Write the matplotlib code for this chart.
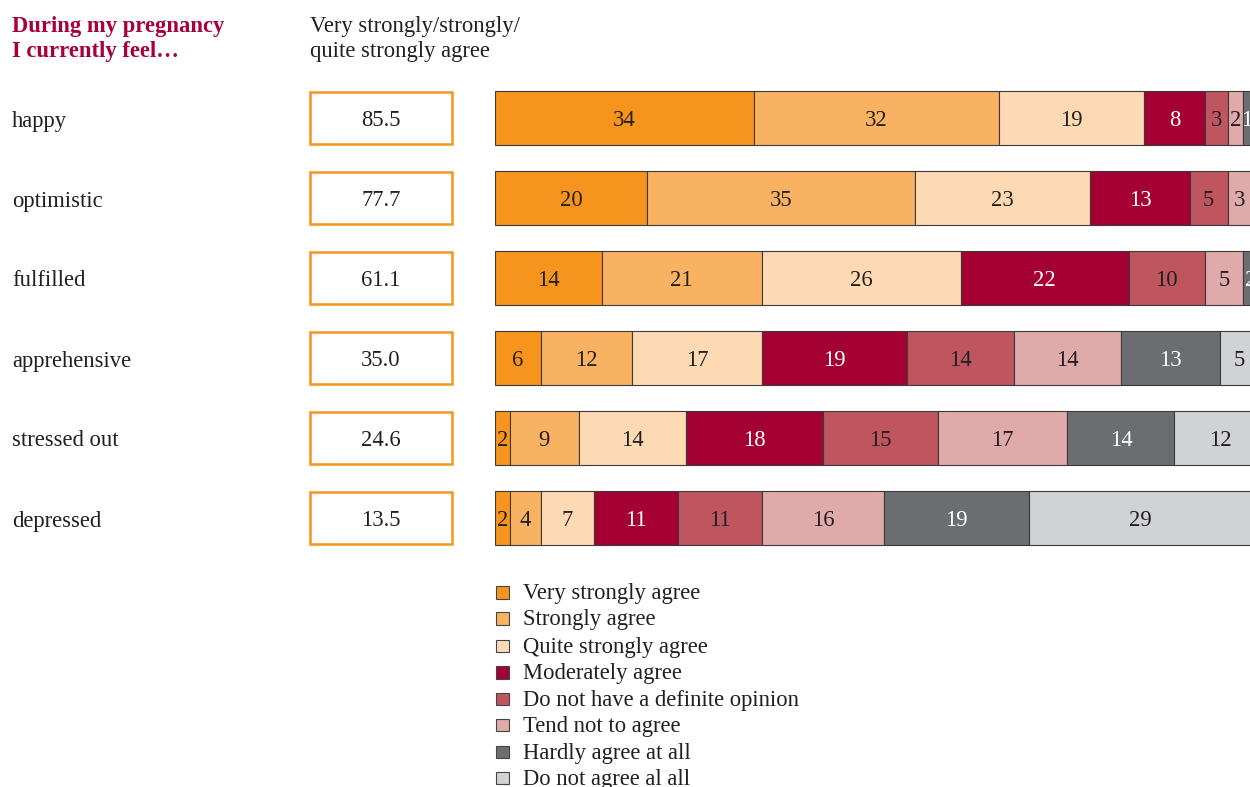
import matplotlib
matplotlib.use("Agg")
import matplotlib.pyplot as plt
from matplotlib.patches import Rectangle
from matplotlib import transforms

plt.rcParams['font.family'] = ['Liberation Serif', 'DejaVu Serif']

# ---- data -------------------------------------------------------------
feelings = ['happy', 'optimistic', 'fulfilled', 'apprehensive', 'stressed out', 'depressed']
agree_total = [85.5, 77.7, 61.1, 35.0, 24.6, 13.5]

categories = ['Very strongly agree', 'Strongly agree', 'Quite strongly agree',
              'Moderately agree', 'Do not have a definite opinion',
              'Tend not to agree', 'Hardly agree at all', 'Do not agree al all']

very_strongly = [34, 20, 14, 6, 2, 2]
strongly = [32, 35, 21, 12, 9, 4]
quite_strongly = [19, 23, 26, 17, 14, 7]
moderately = [8, 13, 22, 19, 18, 11]
no_opinion = [3, 5, 10, 14, 15, 11]
tend_not = [2, 3, 5, 14, 17, 16]
hardly = [1, 1, 2, 13, 14, 19]
not_at_all = [1, 0, 1, 5, 12, 29]

series = [very_strongly, strongly, quite_strongly, moderately,
          no_opinion, tend_not, hardly, not_at_all]

colors = ['#F7941D', '#F9B262', '#FDDAB4', '#A50034',
          '#BF555F', '#DFAAA9', '#6C6D70', '#D1D2D4']
label_colors = ['#231F20', '#231F20', '#231F20', 'white',
                '#231F20', '#231F20', 'white', '#231F20']

TEXT = '#231F20'
ACCENT = '#A7003A'
ORANGE = '#F7941D'
FS = 16.3

W, H = 1250, 787
fig = plt.figure(figsize=(W / 100, H / 100), dpi=100)

def fx(px):
    return px / W

def fy(py):
    return 1 - py / H

# ---- stacked bars -----------------------------------------------------
top_px, bottom_px = 78, 558
XMAX = 98.9
ax = fig.add_axes([fx(494.7), fy(bottom_px), 1 - fx(494.7), (bottom_px - top_px) / H])
ax.set_xlim(0, XMAX)
ax.set_ylim(len(feelings) - 0.5, -0.5)
ax.axis('off')

ypos = list(range(len(feelings)))
text_tf = transforms.offset_copy(ax.transData, fig=fig, x=0, y=-8.5, units='dots')

left = [0] * len(feelings)
for vals, col, tcol in zip(series, colors, label_colors):
    ax.barh(ypos, vals, left=left, height=0.675, color=col,
            edgecolor='#3a3a3a', linewidth=0.8)
    for i, v in enumerate(vals):
        # segments that start past the right edge are not visible at all
        if v > 0 and left[i] < XMAX:
            ax.text(left[i] + v / 2, i, f'{v}', transform=text_tf,
                    ha='center', va='baseline', fontsize=FS, color=tcol,
                    clip_on=True)
    left = [l + v for l, v in zip(left, vals)]

# ---- boxed totals ------------------------------------------------------
bax = fig.add_axes([fx(310), fy(bottom_px), 142 / W, (bottom_px - top_px) / H])
bax.set_xlim(0, 1)
bax.set_ylim(len(feelings) - 0.5, -0.5)
bax.axis('off')
box_tf = transforms.offset_copy(bax.transData, fig=fig, x=0, y=-8.5, units='dots')
for i, val in enumerate(agree_total):
    bax.add_patch(Rectangle((0, i - 0.33), 1, 0.66, facecolor='white',
                            edgecolor=ORANGE, linewidth=1.8, clip_on=False))
    bax.text(0.5, i, f'{val:.1f}', transform=box_tf, ha='center',
             va='baseline', fontsize=FS, color=TEXT)

# ---- row labels ---------------------------------------------------------
lab_tf = transforms.offset_copy(
    transforms.blended_transform_factory(fig.transFigure, ax.transData),
    fig=fig, x=0, y=-8.5, units='dots')
for i, name in enumerate(feelings):
    fig.text(fx(12), i, name, transform=lab_tf, ha='left', va='baseline',
             fontsize=FS, color=TEXT)

# ---- headings -----------------------------------------------------------
fig.text(fx(12), fy(32), 'During my pregnancy', fontsize=FS, fontweight='bold',
         color=ACCENT, va='baseline', ha='left')
fig.text(fx(12), fy(57), 'I currently feel\u2026', fontsize=FS, fontweight='bold',
         color=ACCENT, va='baseline', ha='left')
fig.text(fx(310), fy(32), 'Very strongly/strongly/', fontsize=FS,
         color=TEXT, va='baseline', ha='left')
fig.text(fx(310), fy(57), 'quite strongly agree', fontsize=FS,
         color=TEXT, va='baseline', ha='left')

# ---- legend -------------------------------------------------------------
legend_rows = [592.5, 618.5, 646, 672.5, 699, 725, 752, 778]
sq = 12.5
for cy, name, col in zip(legend_rows, categories, colors):
    fig.patches.append(Rectangle((fx(496), fy(cy + sq / 2)), sq / W, sq / H,
                                 transform=fig.transFigure, facecolor=col,
                                 edgecolor='#444444', linewidth=0.8))
    fig.text(fx(523), fy(cy + 7), name, fontsize=FS, color=TEXT,
             va='baseline', ha='left')

fig.savefig('out.png', dpi=100, facecolor='white')
